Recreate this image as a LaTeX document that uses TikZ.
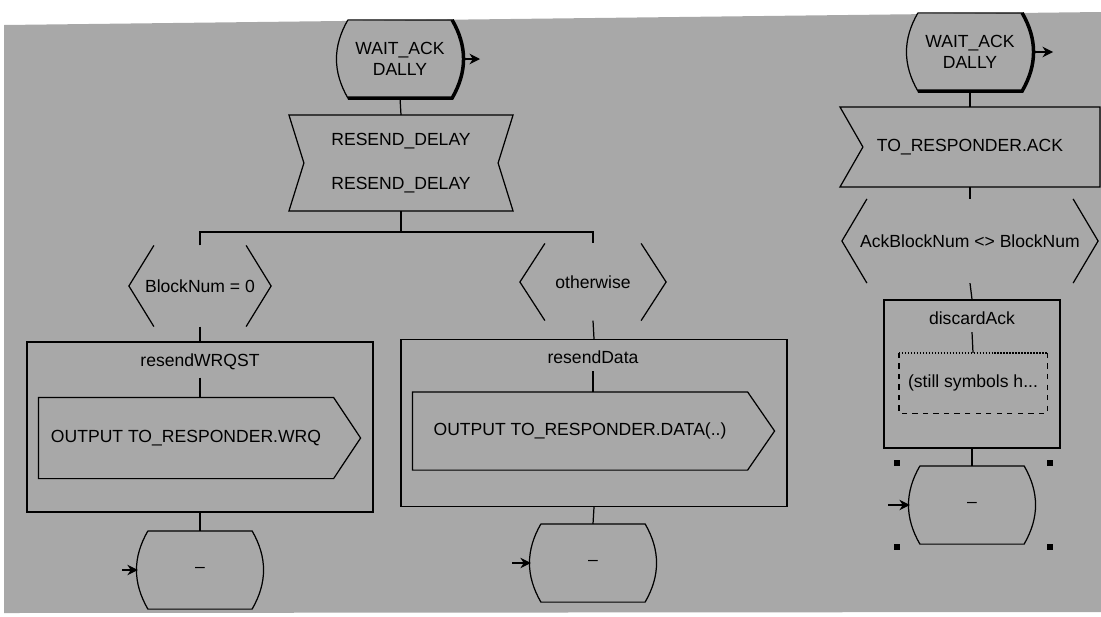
\documentclass[tikz,border=0pt]{standalone}
\usepackage{fontspec}
\setmainfont{Liberation Sans}
\usetikzlibrary{arrows.meta,calc,positioning}

\definecolor{scanbg}{gray}{0.66}

\begin{document}
\begin{tikzpicture}[
	x=0.02cm, y=-0.02cm, line width=0.7pt,
	font=\fontsize{10}{12}\selectfont,
	sdlstate/.style={ inner sep=0pt, minimum width=2.06cm, minimum height=1.54cm, align=center },
	decide/.style={ inner sep=0pt, minimum height=1.6cm },
	sigbox/.style={ inner sep=0pt, align=center },
	procbox/.style={ draw, inner sep=0pt },
	proctitle/.style={ inner sep=4pt },
	flow/.style={ -{Stealth[length=6pt,width=6pt]} }
]

\useasboundingbox (0,0) rectangle (1101,616);
\fill[scanbg] (4,25) -- (1101,12) -- (1101,612) -- (4,613) -- cycle;

% left part: timer expiry
\node[sdlstate] (s1) at (400,59) {WAIT\_ACK\\DALLY};
\node[sigbox, minimum width=4.46cm, minimum height=1.9cm] (t1) at (401,163) {RESEND\_DELAY\\[13pt]RESEND\_DELAY};
\node[decide, minimum width=2.82cm] (d1) at (200,286) {BlockNum = 0};
\node[decide, minimum width=2.9cm, minimum height=1.52cm] (d2) at (593,282) {otherwise};

\node[procbox, minimum width=6.92cm, minimum height=3.4cm] (p1) at (200,427) {};
\node[proctitle] (p1t) at (200,362) {resendWRQST};
\node[sigbox, minimum width=5.88cm, minimum height=1.6cm] (o1) at (186,438) {OUTPUT TO\_RESPONDER.WRQ};
\node[sdlstate] (st1) at (200,570) {\textendash};

\node[procbox, minimum width=7.72cm, minimum height=3.34cm] (p2) at (594,423) {};
\node[proctitle] (p2t) at (593,357) {resendData};
\node[sigbox, minimum width=6.68cm, minimum height=1.54cm] (o2) at (580,431) {OUTPUT TO\_RESPONDER.DATA(..)};
\node[sdlstate] (st2) at (593,563) {\textendash};

% right part: stale ack
\node[sdlstate] (s2) at (970,52) {WAIT\_ACK\\DALLY};
\node[sigbox, minimum width=5.18cm, minimum height=1.58cm] (i1) at (970,147) {TO\_RESPONDER.ACK};
\node[decide, minimum width=5.1cm, minimum height=1.66cm] (d3) at (970,241) {AckBlockNum <> BlockNum};
\node[procbox, minimum width=3.52cm, minimum height=2.96cm] (p3) at (972,374) {};
\node[proctitle] (p3t) at (972,318) {discardAck};
\node[inner sep=0pt, minimum width=2.94cm, minimum height=1.18cm] (sym) at (973,383) {(still symbols h...};
\node[sdlstate] (st3) at (972,505) {\textendash};

% state outlines, bold shadow on the start states
\foreach \s in {s1,s2,st1,st2,st3}
	\draw (\s.north west) -- (\s.north east) to[out=-60,in=60] (\s.south east)
		-- (\s.south west) to[out=120,in=-120] (\s.north west);
\foreach \s in {s1,s2}
	\draw[line width=2pt] (\s.south west) -- (\s.south east) to[out=60,in=-60] (\s.north east);

% timer input has a notch on both sides, the signal input only on the left
\draw (t1.north west) -- (t1.north east) -- ($(t1.east)+(-15,0)$) -- (t1.south east)
	-- (t1.south west) -- ($(t1.west)+(15,0)$) -- cycle;
\draw (i1.north west) -- (i1.north east) -- (i1.south east) -- (i1.south west)
	-- ($(i1.west)+(23,0)$) -- cycle;

% outputs
\foreach \o in {o1,o2}
	\draw (\o.north west) -- (\o.north east) -- ($(\o.east)+(27,0)$) -- (\o.south east)
		-- (\o.south west) -- cycle;

% decisions are only the two brackets
\foreach \d in {d1,d2,d3}
	\draw ($(\d.north west)+(25,0)$) -- (\d.west) -- ($(\d.south west)+(25,0)$)
		($(\d.north east)+(-25,0)$) -- (\d.east) -- ($(\d.south east)+(-25,0)$);

% unfinished symbol in discardAck
\draw[densely dotted] (sym.north west) -- (sym.north east);
\draw[dashed] (sym.north east) -- (sym.south east) -- (sym.south west) -- (sym.north west);

% flow lines
\draw (s1.south) -- (t1.north);
\draw (t1.south) -- ++(0,21) coordinate (fork);
\draw (d1.north) |- (fork) -| (d2.north);
\draw (d1.south) -- (p1.north);
\draw (p1t.south) -- (p1t.south |- o1.north);
\draw (p1.south) -- (st1.north);
\draw (d2.south) -- (p2.north);
\draw (p2t.south) -- (p2t.south |- o2.north);
\draw (p2.south) -- (st2.north);

\draw (s2.south) -- (i1.north);
\draw (i1.south) -- (d3.north);
\draw (d3.south) -- (p3.north);
\draw (p3t.south) -- (sym.north);
\draw (p3.south) -- (st3.north);

% entry and exit arrows
\coordinate (s1out) at (480,59);
\coordinate (s2out) at (1053,52);
\coordinate (st1in) at (122,570);
\coordinate (st2in) at (512,563);
\coordinate (st3in) at (888,505);
\draw[flow] ([xshift=0.2cm]s1.east) -- (s1out);
\draw[flow] ([xshift=0.2cm]s2.east) -- (s2out);
\draw[flow] (st1in) -- ([xshift=-0.2cm]st1.west);
\draw[flow] (st2in) -- ([xshift=-0.2cm]st2.west);
\draw[flow] (st3in) -- ([xshift=-0.2cm]st3.west);

% selection handles
\foreach \hx/\hy in {897/463, 1050/463, 897/547, 1050/547}
	\fill (\hx,\hy) ++(-3,-3) rectangle ++(6,6);

\end{tikzpicture}
\end{document}
